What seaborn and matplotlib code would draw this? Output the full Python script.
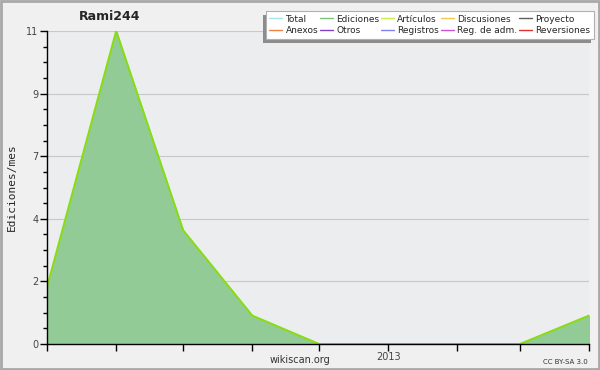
import pandas as pd
import numpy as np
import seaborn as sns
import matplotlib.pyplot as plt
from matplotlib.lines import Line2D
from matplotlib.patches import Rectangle

# monthly edits
months = ['2012-08', '2012-09', '2012-10', '2012-11', '2012-12',
          '2013-01', '2013-02', '2013-03', '2013-04']
edits = [2, 11, 4, 1, 0, 0, 0, 0, 1]

legend_names = ['Total', 'Ediciones', 'Artículos', 'Discusiones', 'Proyecto',
                'Anexos', 'Otros', 'Registros', 'Reg. de adm.', 'Reversiones']
legend_colors = ['#a8e4e0', '#7cc47c', '#c8ec50', '#f4c850', '#606060',
                 '#f08040', '#8040c8', '#8080f0', '#d050d8', '#e03030']

y_max = 11
y_ticks = np.linspace(0, y_max, 6)
y_labels = [str(int(round(v))) for v in y_ticks]

df = pd.DataFrame({'month': pd.to_datetime(months), 'edits': edits})

sns.set_style('white')
plt.rcParams['font.family'] = ['DejaVu Sans']

W, H = 600, 370
fig = plt.figure(figsize=(6, 3.7), dpi=100, facecolor='#f0f0f0')
ax = fig.add_axes([47 / W, 26 / H, 542 / W, 313 / H])
ax.set_facecolor('#ecedef')

ax.fill_between(df['month'], df['edits'], color='#93cb96', zorder=2)
sns.lineplot(data=df, x='month', y='edits', ax=ax, color='#88dd11',
             linewidth=1.4, zorder=3)

ax.set_xlim(df['month'].iloc[0], df['month'].iloc[-1])
ax.set_ylim(0, y_max)
ax.set_yticks(y_ticks)
ax.set_yticklabels(y_labels)
ax.set_yticks(np.arange(0, y_max + 0.01, y_max / 20), minor=True)
ax.set_xticks(df['month'])
ax.set_xticklabels([d.strftime('%Y') if d.month == 1 else '' for d in df['month']])
ax.tick_params(axis='both', which='major', length=5, width=1, color='black',
               labelsize=7, labelcolor='#444444', direction='out', pad=1,
               left=True, bottom=True)
ax.tick_params(axis='y', which='minor', length=3, width=1, color='black',
               direction='out', left=True)
ax.yaxis.grid(True, color='#c8c8c8', linewidth=0.8, zorder=1)
ax.set_axisbelow(True)
for side in ['top', 'right']:
    ax.spines[side].set_visible(False)
for side in ['left', 'bottom']:
    ax.spines[side].set_color('black')
    ax.spines[side].set_linewidth(1)
    ax.spines[side].set_zorder(4)

ax.set_xlabel('')
ax.set_ylabel('Ediciones/mes', fontsize=8, family='DejaVu Sans Mono', labelpad=7)

fig.text(110 / W, 1 - 17 / H, 'Rami244', fontsize=9, fontweight='bold',
         ha='center', va='center')

handles = [Line2D([0], [0], color=c, linewidth=1) for c in legend_colors]
order = [0, 5, 1, 6, 2, 7, 3, 8, 4, 9]
leg = fig.legend([handles[i] for i in order], [legend_names[i] for i in order],
                 ncol=5, loc='upper right', bbox_to_anchor=(594 / W, 1 - 11 / H),
                 fontsize=6.5, frameon=True, fancybox=False, shadow=False,
                 handlelength=1.4, handletextpad=0.4, columnspacing=0.2,
                 labelspacing=0.3, borderpad=0.4, borderaxespad=0)
leg.set_zorder(6)
leg.get_frame().set_edgecolor('#b0b0b0')
leg.get_frame().set_facecolor('white')
leg.get_frame().set_alpha(1)
leg.get_frame().set_linewidth(0.8)

# shadow offset down-left of the legend box
fig.canvas.draw()
bb = leg.get_window_extent()
fig.patches.append(Rectangle(((bb.x0 - 3) / W, (bb.y0 - 4) / H), bb.width / W,
                             bb.height / H, transform=fig.transFigure,
                             facecolor='#8c8c8c', edgecolor='none', zorder=4))

fig.text(300 / W, 1 - 360 / H, 'wikiscan.org', fontsize=7, ha='center',
         va='center', color='#333333')
fig.text(588 / W, 1 - 362 / H, 'CC BY-SA 3.0', fontsize=5, ha='right',
         va='center', color='#333333')

fig.patches.append(Rectangle((0.001, 0.002), 0.997, 0.995, transform=fig.transFigure,
                             fill=False, edgecolor='#a8a8a8', linewidth=2))

fig.savefig('out.png', dpi=100, facecolor=fig.get_facecolor())
